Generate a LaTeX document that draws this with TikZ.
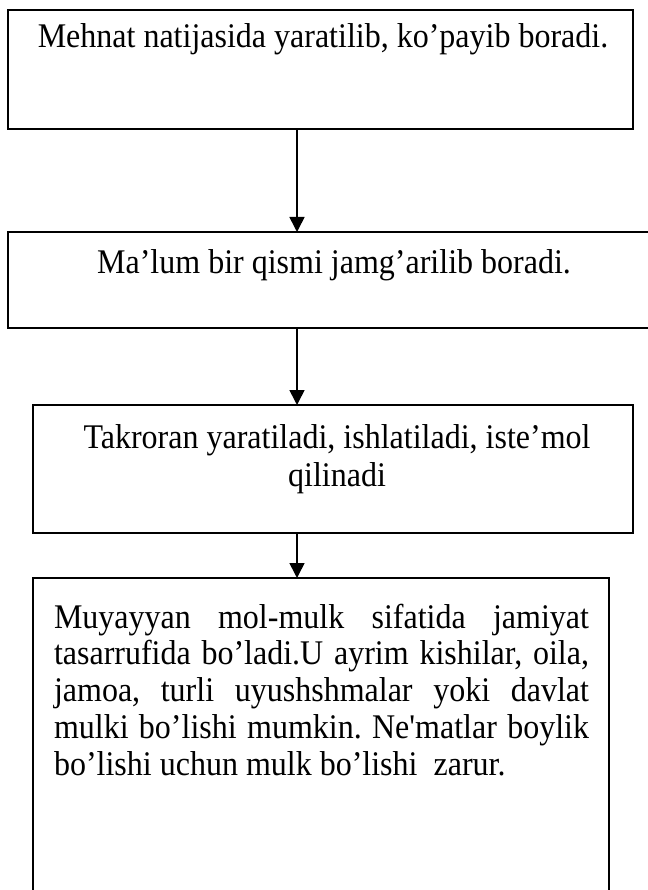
\documentclass[tikz,border=0pt]{standalone}
\usepackage{fontspec}
\setmainfont{Liberation Serif}[Ligatures=TeXOff]
\usetikzlibrary{arrows.meta}
\newcommand{\tallx}[1]{\scalebox{1}[1.08]{#1}}
\begin{document}
\begin{tikzpicture}[x=1pt,y=-1pt,
  box/.style={draw=black, line width=1.6pt, inner sep=0pt, outer sep=0pt},
  txt/.style={anchor=base, inner sep=0pt, outer sep=0pt, font=\fontsize{32}{36.8}\selectfont, text=black},
  arr/.style={draw=black, line width=1.6pt, -{Triangle[length=15pt,width=15pt]}}]
\useasboundingbox (0,0) rectangle (647,890);
\fill[white] (0,0) rectangle (647,890);
% boxes
\node[box, minimum width=625pt, minimum height=119pt] (b1) at (320.5,69.5) {};
\node[box, minimum width=652pt, minimum height=96pt] (b2) at (334,280) {};
\node[box, minimum width=600pt, minimum height=128pt] (b3) at (333,469) {};
\node[box, minimum width=576pt, minimum height=342pt] (b4) at (321,749) {};
% texts
\node[txt] (t1) at (323,48) {\tallx{Mehnat natijasida yaratilib, ko’payib boradi.}};
\node[txt] (t2) at (334,273) {\tallx{Ma’lum bir qismi jamg’arilib boradi.}};
\node[txt] (t3a) at (337,448) {\tallx{Takroran yaratiladi, ishlatiladi, iste’mol}};
\node[txt] (t3b) at (337,486) {\tallx{qilinadi}};
\node[txt, anchor=base west] (t4) at (54,628) {\tallx{\vtop{\hsize=535pt\baselineskip=34.2pt
  \hbox to\hsize{Muyayyan\hfill mol-mulk\hfill sifatida\hfill jamiyat}
  \hbox to\hsize{tasarrufida\hfill bo’ladi.U\hfill ayrim\hfill kishilar,\hfill oila,}
  \hbox to\hsize{jamoa,\hfill turli\hfill uyushshmalar\hfill yoki\hfill davlat}
  \hbox to\hsize{mulki\hfill bo’lishi\hfill mumkin.\hfill Ne'matlar\hfill boylik}
  \hbox{bo’lishi uchun mulk bo’lishi\ \ zarur.}}}};
% connectors
\coordinate (ax) at (297,0);
\draw[arr] (b1.south -| ax) -- (b2.north -| ax);
\draw[arr] (b2.south -| ax) -- (b3.north -| ax);
\draw[arr] (b3.south -| ax) -- (b4.north -| ax);
\end{tikzpicture}
\end{document}
